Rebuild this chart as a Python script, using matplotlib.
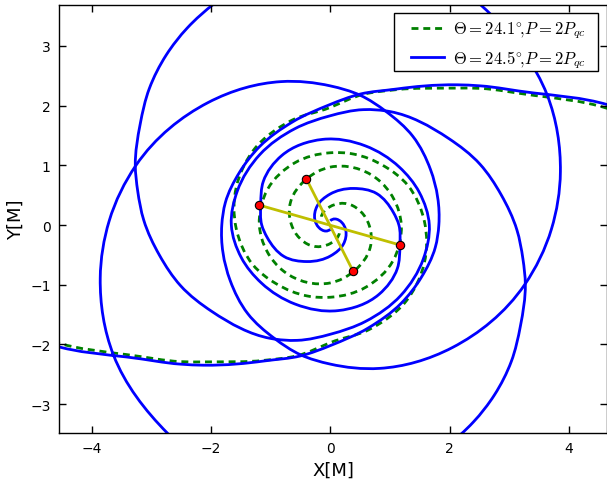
import numpy as np
import matplotlib
matplotlib.use("Agg")
import matplotlib.pyplot as plt
from matplotlib.path import Path
from matplotlib.patches import PathPatch, Rectangle
from matplotlib.lines import Line2D

plt.rcParams["mathtext.fontset"] = "cm"
plt.rcParams["lines.scale_dashes"] = False

# track of one hole: unwrapped angle [deg], radius [M]
# the partner hole is at the opposite point (angle + 180)
# blue: first pass (comes in, whirls, zooms out below the frame) ...
blue1_phi = [203.4, 212.9, 222.8, 227.8, 243.8, 257.1, 270, 290, 312, 330, 348, 360,
             389, 407, 424, 437, 450, 469, 495, 523, 539, 553, 571, 592, 596]
blue1_r = [5.07, 4.07, 3.43, 3.17, 2.54, 2.25, 2.02, 1.84, 1.77, 1.76, 1.80, 1.82,
           1.92, 2.03, 2.12, 2.23, 2.33, 2.54, 2.90, 3.41, 3.71, 3.96, 4.24, 4.43, 4.47]
# ... second pass (comes back, whirls, merges)
blue2_phi = [657.5, 666, 674, 683, 692, 703, 710, 718.5, 730, 742, 756, 782, 794, 810,
             830, 855, 880, 900, 920, 940, 966, 995, 1025, 1047, 1063,
             1080, 1091, 1114, 1137, 1170, 1204, 1239, 1271, 1311, 1350]
blue2_r = [4.19, 4.08, 3.96, 3.80, 3.61, 3.42, 3.28, 3.13, 2.91, 2.71, 2.46, 2.15, 2.01, 1.83,
           1.72, 1.67, 1.66, 1.66, 1.59, 1.51, 1.45, 1.44, 1.42, 1.34, 1.22,
           1.15, 1.08, 0.94, 0.73, 0.52, 0.39, 0.28, 0.20, 0.13, 0.07]

green_phi = [22.8, 32.4, 42.3, 47.1, 63.7, 75.7, 90, 110, 135, 158, 182, 207, 227,
             252, 270, 300, 330, 360, 405, 450, 477, 510, 540, 585, 630, 680]
green_r = [5.04, 4.05, 3.40, 3.13, 2.53, 2.26, 1.97, 1.87, 1.80, 1.70, 1.58, 1.46, 1.34,
           1.25, 1.21, 1.20, 1.21, 1.19, 1.10, 0.97, 0.87, 0.77, 0.65, 0.48, 0.31, 0.20]

# positions of the two holes at the marked instant
blue_dots_x = [-1.20, 1.17]
blue_dots_y = [0.335, -0.335]
green_dots_x = [-0.40, 0.38]
green_dots_y = [0.77, -0.77]

labels = [r"$\Theta=24.1^{\circ}\!,\!P=2P_{qc}$", r"$\Theta=24.5^{\circ}\!,\!P=2P_{qc}$"]


def orbit_path(phi_deg, r, shift=0.0):
    # cubic Bezier pieces through the read points, tangents taken from dr/dphi
    t = np.radians(np.asarray(phi_deg, float) + shift)
    r = np.asarray(r, float)
    h = np.diff(t)
    s = np.diff(r) / h
    dr = np.empty_like(r)
    dr[0], dr[-1] = s[0], s[-1]
    dr[1:-1] = (s[:-1] * h[1:] + s[1:] * h[:-1]) / (h[:-1] + h[1:])
    p = np.column_stack([r * np.cos(t), r * np.sin(t)])
    v = np.column_stack([dr * np.cos(t) - r * np.sin(t), dr * np.sin(t) + r * np.cos(t)])
    verts = [p[0]]
    codes = [Path.MOVETO]
    for i in range(len(p) - 1):
        verts += [p[i] + v[i] * h[i] / 3, p[i + 1] - v[i + 1] * h[i] / 3, p[i + 1]]
        codes += [Path.CURVE4] * 3
    return Path(verts, codes)


fig = plt.figure(figsize=(6.07, 4.85), dpi=100)
ax = fig.add_axes([59 / 607, 51 / 485, 548 / 607, 428 / 485])

for shift in [0, 180]:
    ax.add_patch(PathPatch(orbit_path(green_phi, green_r, shift), fill=False,
                           ec="g", lw=2, ls=(0, (5, 3.5))))
for shift in [0, 180]:
    for ph, rr in [(blue1_phi, blue1_r), (blue2_phi, blue2_r)]:
        ax.add_patch(PathPatch(orbit_path(ph, rr, shift), fill=False, ec="b", lw=2))

ax.plot(blue_dots_x, blue_dots_y, color="y", lw=2)
ax.plot(green_dots_x, green_dots_y, color="y", lw=2)
ax.plot(blue_dots_x + green_dots_x, blue_dots_y + green_dots_y, ls="none",
        marker="o", ms=6, mfc="r", mec="k", mew=0.8)

ax.set_xlim(-4.55, 4.64)
ax.set_ylim(-3.484, 3.685)
ax.set_xticks([-4, -2, 0, 2, 4])
ax.set_yticks([-3, -2, -1, 0, 1, 2, 3])
ax.tick_params(direction="in", top=True, right=True, length=5, width=1,
               labelsize=10, pad=6)
for s in ax.spines.values():
    s.set_linewidth(1)
ax.set_xlabel("X[M]", fontsize=13, labelpad=4)
ax.set_ylabel("Y[M]", fontsize=13, labelpad=4)

# legend: white box with black edge, entries placed inside it
ax.add_patch(Rectangle((0.6113, 0.8458), 0.3723, 0.1355, transform=ax.transAxes,
                       fc="w", ec="k", lw=1, zorder=4))
handles = [Line2D([], [], color="g", lw=2, ls=(0, (5, 3.5))),
           Line2D([], [], color="b", lw=2)]
ax.legend(handles, labels, loc="upper left", bbox_to_anchor=(0.6418, 0.966),
          borderaxespad=0, borderpad=0, frameon=False, fontsize=12,
          handlelength=2.0, handletextpad=0.55, labelspacing=0.46)

fig.savefig("out.png", dpi=100)
